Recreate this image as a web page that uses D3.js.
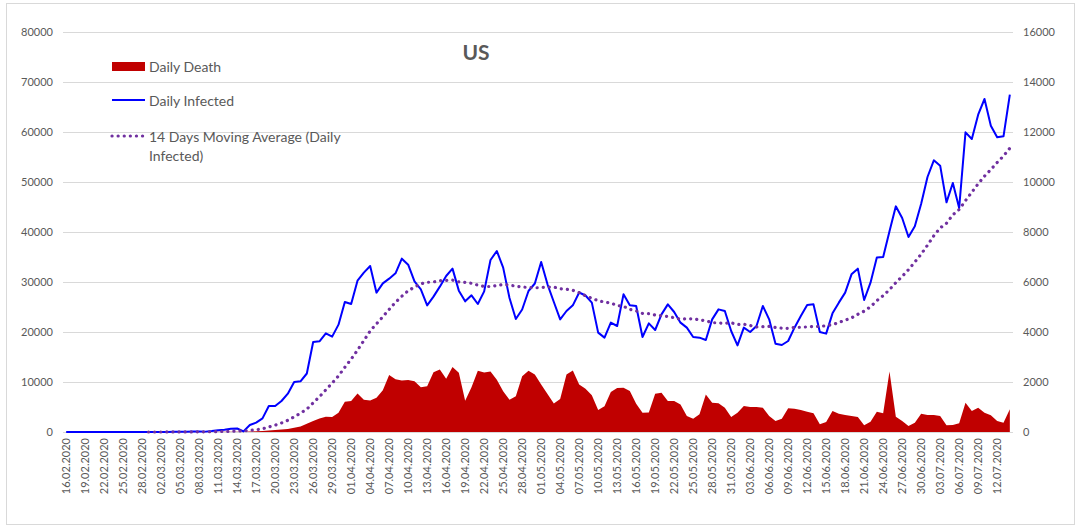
<!DOCTYPE html>
<html>
<head>
<meta charset="utf-8">
<script src="https://cdn.jsdelivr.net/npm/d3@7"></script>
<style>
  body { margin: 0; background: #fff; }
  text { font-family: Lato, "Open Sans", sans-serif; fill: #595959; }
</style>
</head>
<body>
<div id="chart"></div>
<script>
// categories: 16.02.2020 - 14.07.2020
var dates = [
  "16.02.2020","17.02.2020","18.02.2020","19.02.2020","20.02.2020","21.02.2020","22.02.2020","23.02.2020","24.02.2020","25.02.2020","26.02.2020","27.02.2020","28.02.2020","29.02.2020",
  "01.03.2020","02.03.2020","03.03.2020","04.03.2020","05.03.2020","06.03.2020","07.03.2020","08.03.2020","09.03.2020","10.03.2020","11.03.2020","12.03.2020","13.03.2020","14.03.2020","15.03.2020","16.03.2020","17.03.2020","18.03.2020","19.03.2020","20.03.2020","21.03.2020","22.03.2020","23.03.2020","24.03.2020","25.03.2020","26.03.2020","27.03.2020","28.03.2020","29.03.2020","30.03.2020","31.03.2020",
  "01.04.2020","02.04.2020","03.04.2020","04.04.2020","05.04.2020","06.04.2020","07.04.2020","08.04.2020","09.04.2020","10.04.2020","11.04.2020","12.04.2020","13.04.2020","14.04.2020","15.04.2020","16.04.2020","17.04.2020","18.04.2020","19.04.2020","20.04.2020","21.04.2020","22.04.2020","23.04.2020","24.04.2020","25.04.2020","26.04.2020","27.04.2020","28.04.2020","29.04.2020","30.04.2020",
  "01.05.2020","02.05.2020","03.05.2020","04.05.2020","05.05.2020","06.05.2020","07.05.2020","08.05.2020","09.05.2020","10.05.2020","11.05.2020","12.05.2020","13.05.2020","14.05.2020","15.05.2020","16.05.2020","17.05.2020","18.05.2020","19.05.2020","20.05.2020","21.05.2020","22.05.2020","23.05.2020","24.05.2020","25.05.2020","26.05.2020","27.05.2020","28.05.2020","29.05.2020","30.05.2020","31.05.2020",
  "01.06.2020","02.06.2020","03.06.2020","04.06.2020","05.06.2020","06.06.2020","07.06.2020","08.06.2020","09.06.2020","10.06.2020","11.06.2020","12.06.2020","13.06.2020","14.06.2020","15.06.2020","16.06.2020","17.06.2020","18.06.2020","19.06.2020","20.06.2020","21.06.2020","22.06.2020","23.06.2020","24.06.2020","25.06.2020","26.06.2020","27.06.2020","28.06.2020","29.06.2020","30.06.2020",
  "01.07.2020","02.07.2020","03.07.2020","04.07.2020","05.07.2020","06.07.2020","07.07.2020","08.07.2020","09.07.2020","10.07.2020","11.07.2020","12.07.2020","13.07.2020","14.07.2020"
];

// daily infected (left axis)
var dailyInfected = [
  0,0,0,0,0,2,0,0,18,0,0,3,0,4,
  7,23,20,31,70,68,123,116,75,188,365,439,633,700,120,1400,1870,2730,5200,5200,6200,7670,10000,10130,11700,18000,18130,19730,19070,21470,26000,
  25600,30270,31870,33200,27870,29730,30670,31730,34670,33470,30130,28530,25330,27070,29070,31200,32670,28270,26130,27330,25600,28130,34400,36200,32870,26800,22600,24500,28200,29700,
  34000,29530,26000,22530,24200,25330,27900,27300,25870,19870,18870,21870,21200,27530,25330,25200,19000,21730,20400,23530,25530,24000,21870,20870,19000,18870,18400,22530,24530,24200,20200,
  17330,20870,20000,21200,25200,22530,17670,17400,18200,20870,23200,25400,25530,20000,19670,23730,25870,27870,31530,32670,26400,29870,34900,35000,40130,45130,42800,39000,41130,45670,
  51000,54330,53270,45930,49800,44800,59930,58600,63470,66600,61270,58930,59130,67470
];

// daily death (right axis)
var dailyDeath = [
  0,0,0,0,0,0,0,0,0,0,0,0,0,1,
  1,4,1,4,2,1,2,3,4,5,8,7,10,10,12,18,27,45,60,80,100,125,175,225,330,440,540,610,600,770,1210,
  1240,1540,1290,1260,1370,1670,2280,2110,2060,2080,2030,1790,1830,2390,2500,2130,2600,2370,1250,1790,2450,2380,2420,2090,1630,1290,1430,2230,2450,2300,
  1900,1520,1140,1320,2300,2460,1900,1730,1470,880,1030,1600,1760,1770,1640,1130,770,780,1530,1570,1240,1240,1100,640,530,710,1500,1170,1150,970,600,
  770,1040,1000,1000,970,640,440,530,950,930,880,810,750,310,400,840,730,680,640,600,270,410,810,750,2420,610,440,240,370,730,
  680,680,640,270,280,350,1170,840,970,770,670,440,370,910
];

// 14 days moving average of daily infected, starts at 29.02.2020
var movingAverage = [
  2,
  2,4,6,8,13,17,26,34,39,52,78,109,154,204,212,311,443,636,1002,1369,1803,2342,3051,3761,4571,5825,7075,8434,9788,11221,12945,
  14579,16369,18274,20203,21646,23055,24522,25953,27144,28239,28982,29658,29934,30010,30258,30324,30381,30029,29905,29734,29371,29114,29095,29290,29486,29362,29167,28984,28921,28814,
  28909,28999,28990,28647,28547,28347,27883,27247,26747,26252,25986,25798,25298,25143,24524,24214,23714,23657,23386,23257,23088,22852,22566,22638,22647,22433,22233,21876,21819,21747,21833,
  21519,21552,21300,20991,21076,21124,20895,20781,20733,20909,20957,21019,21114,21100,21267,21471,21891,22367,22819,23544,24167,25058,26251,27260,28469,29879,31112,32469,34002,35569,
  37364,39254,40807,41754,43426,44492,46280,47966,49633,51166,52486,53909,55195,56752
];
var maStart = 13;

var leftTicks = [0, 10000, 20000, 30000, 40000, 50000, 60000, 70000, 80000];
var rightTicks = [0, 2000, 4000, 6000, 8000, 10000, 12000, 14000, 16000];

var legendItems = ["Daily Death", "Daily Infected", "14 Days Moving Average (Daily", "Infected)"];

var width = 1081, height = 532;
var margin = {top: 32, right: 68, bottom: 100, left: 63};
var plotW = width - margin.left - margin.right;
var plotH = height - margin.top - margin.bottom;

var svg = d3.select("#chart").append("svg")
  .attr("width", width)
  .attr("height", height);

// chart frame
svg.append("rect")
  .attr("x", 6.5).attr("y", 3.5)
  .attr("width", 1068).attr("height", 521)
  .attr("fill", "none")
  .attr("stroke", "#d9d9d9");

var g = svg.append("g").attr("transform", "translate(" + margin.left + "," + margin.top + ")");

var x = d3.scaleBand().domain(dates).range([0, plotW]);
var xc = function(d) { return x(d) + x.bandwidth() / 2; };
var yLeft = d3.scaleLinear().domain([0, 80000]).range([plotH, 0]);
var yRight = d3.scaleLinear().domain([0, 16000]).range([plotH, 0]);

// gridlines
g.append("g")
  .call(d3.axisLeft(yLeft).tickValues(leftTicks).tickSize(-plotW).tickFormat(""))
  .call(function(a) {
    a.select(".domain").remove();
    a.selectAll("line").attr("stroke", "#d9d9d9").attr("stroke-width", 1);
  });

// left axis labels
g.append("g")
  .call(d3.axisLeft(yLeft).tickValues(leftTicks).tickSize(0).tickPadding(10).tickFormat(d3.format("d")))
  .call(function(a) {
    a.select(".domain").remove();
    a.selectAll("text").attr("font-size", 11).style("fill", "#595959");
  });

// right axis labels
g.append("g")
  .attr("transform", "translate(" + plotW + ",0)")
  .call(d3.axisRight(yRight).tickValues(rightTicks).tickSize(0).tickPadding(10).tickFormat(d3.format("d")))
  .call(function(a) {
    a.select(".domain").remove();
    a.selectAll("text").attr("font-size", 11).style("fill", "#595959");
  });

// x axis, every third date
g.append("g")
  .attr("transform", "translate(0," + plotH + ")")
  .call(d3.axisBottom(x).tickValues(dates.filter(function(d, i) { return i % 3 === 0; })).tickSize(0))
  .call(function(a) {
    a.select(".domain").remove();
    a.selectAll("text")
      .attr("font-size", 11)
      .style("fill", "#595959")
      .attr("text-anchor", "end")
      .attr("transform", "rotate(-90)")
      .attr("x", -6)
      .attr("y", 0)
      .attr("dy", "0.35em");
  });

// daily death area
var area = d3.area()
  .x(function(d, i) { return xc(dates[i]); })
  .y0(plotH)
  .y1(function(d) { return yRight(d); });

g.append("path")
  .datum(dailyDeath)
  .attr("fill", "#c00000")
  .attr("d", area);

// daily infected line
var line = d3.line()
  .x(function(d, i) { return xc(dates[i]); })
  .y(function(d) { return yLeft(d); });

g.append("path")
  .datum(dailyInfected)
  .attr("fill", "none")
  .attr("stroke", "#0000ff")
  .attr("stroke-width", 2)
  .attr("stroke-linejoin", "round")
  .attr("d", line);

// moving average
var maLine = d3.line()
  .x(function(d, i) { return xc(dates[i + maStart]); })
  .y(function(d) { return yLeft(d); });

g.append("path")
  .datum(movingAverage)
  .attr("fill", "none")
  .attr("stroke", "#7030a0")
  .attr("stroke-width", 3.2)
  .attr("stroke-linecap", "round")
  .attr("stroke-dasharray", "0.1 6")
  .attr("d", maLine);

// title
svg.append("text")
  .attr("x", 476)
  .attr("y", 60)
  .attr("text-anchor", "middle")
  .attr("font-size", 21)
  .attr("font-weight", "bold")
  .text("US");

// legend
var legend = svg.append("g").attr("class", "legend");

legend.append("rect")
  .attr("x", 112).attr("y", 62)
  .attr("width", 33).attr("height", 9)
  .attr("fill", "#c00000");

legend.append("line")
  .attr("x1", 112).attr("x2", 145)
  .attr("y1", 100).attr("y2", 100)
  .attr("stroke", "#0000ff")
  .attr("stroke-width", 2);

legend.append("line")
  .attr("x1", 112).attr("x2", 145)
  .attr("y1", 136).attr("y2", 136)
  .attr("stroke", "#7030a0")
  .attr("stroke-width", 3.2)
  .attr("stroke-linecap", "round")
  .attr("stroke-dasharray", "0.1 6");

var legendY = [67, 101, 137, 156];
legend.selectAll("text.item")
  .data(legendItems)
  .enter()
  .append("text")
  .attr("class", "item")
  .attr("x", 149)
  .attr("y", function(d, i) { return legendY[i]; })
  .attr("dy", "0.35em")
  .attr("font-size", 14)
  .text(function(d) { return d; });
</script>
</body>
</html>
